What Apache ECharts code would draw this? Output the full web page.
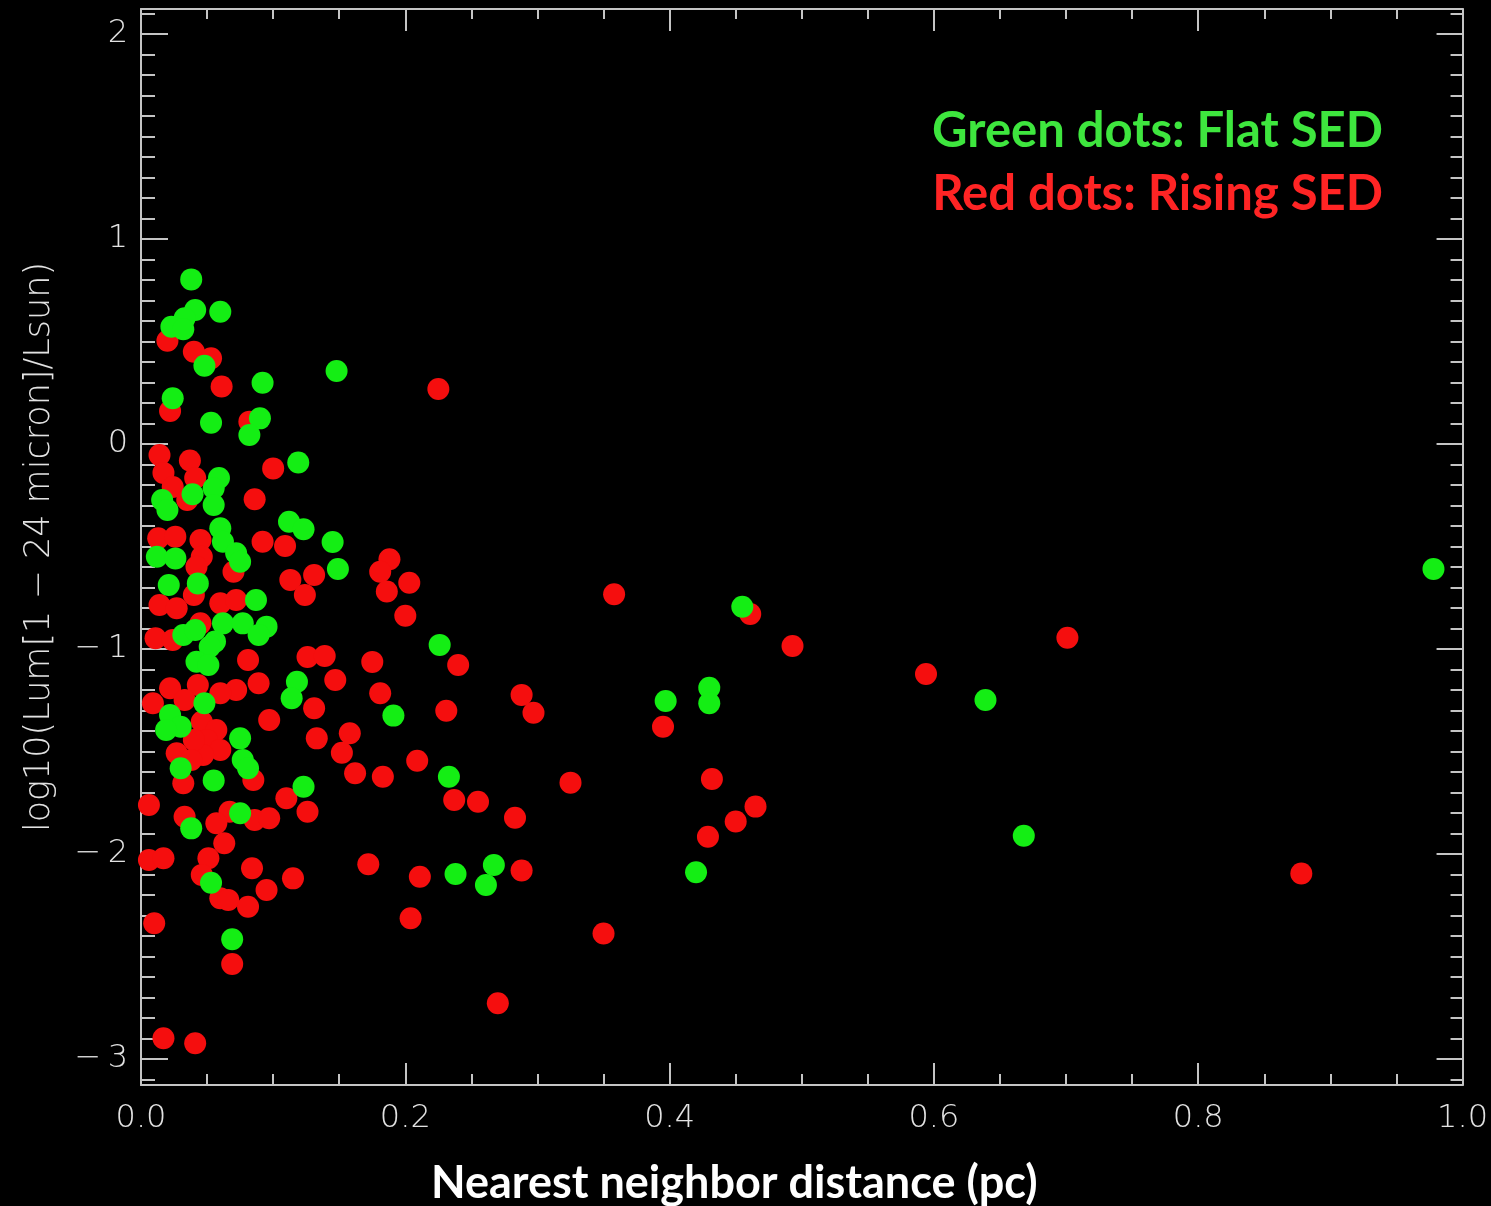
<!DOCTYPE html>
<html>
<head>
<meta charset="utf-8">
<title>Nearest neighbor distance vs luminosity</title>
<script src="https://cdn.jsdelivr.net/npm/echarts@6/dist/echarts.min.js"></script>
<style>
  html, body { margin: 0; padding: 0; background: #000; }
  #chart { width: 1491px; height: 1206px; }
</style>
</head>
<body>
<div id="chart"></div>
<script>
// Flat-SED sources: [nearest neighbor distance (pc), log10 L(1-24 micron)/Lsun]
const flatSed = [
  [0.038, 0.803], [0.041, 0.654], [0.033, 0.613], [0.023, 0.572], [0.032, 0.560],
  [0.060, 0.645], [0.048, 0.382], [0.092, 0.299], [0.148, 0.356], [0.024, 0.223],
  [0.053, 0.104], [0.090, 0.125], [0.082, 0.044], [0.119, -0.090], [0.059, -0.166],
  [0.039, -0.245], [0.016, -0.273], [0.020, -0.322], [0.055, -0.216], [0.055, -0.298],
  [0.112, -0.379], [0.123, -0.416], [0.145, -0.478], [0.060, -0.411], [0.062, -0.477],
  [0.072, -0.533], [0.075, -0.574], [0.012, -0.550], [0.026, -0.558], [0.149, -0.610],
  [0.021, -0.688], [0.043, -0.680], [0.087, -0.761], [0.032, -0.932], [0.041, -0.907],
  [0.062, -0.875], [0.077, -0.875], [0.095, -0.891], [0.089, -0.932], [0.056, -0.964],
  [0.052, -0.989], [0.042, -1.062], [0.051, -1.078], [0.226, -0.980], [0.048, -1.265],
  [0.118, -1.160], [0.114, -1.240], [0.022, -1.322], [0.030, -1.379], [0.019, -1.395],
  [0.075, -1.436], [0.077, -1.541], [0.081, -1.582], [0.030, -1.582], [0.055, -1.642],
  [0.123, -1.672], [0.075, -1.801], [0.038, -1.875], [0.053, -2.140], [0.069, -2.416],
  [0.191, -1.325], [0.233, -1.623], [0.238, -2.098], [0.267, -2.054], [0.261, -2.151],
  [0.455, -0.794], [0.397, -1.254], [0.430, -1.189], [0.430, -1.265], [0.420, -2.089],
  [0.639, -1.249], [0.668, -1.911], [0.978, -0.610]
];

// Rising-SED sources: [nearest neighbor distance (pc), log10 L(1-24 micron)/Lsun]
const risingSed = [
  [0.020, 0.504], [0.040, 0.450], [0.053, 0.418], [0.061, 0.280], [0.022, 0.161],
  [0.082, 0.109], [0.225, 0.268], [0.014, -0.054], [0.037, -0.081], [0.100, -0.119],
  [0.017, -0.141], [0.041, -0.166], [0.024, -0.210], [0.035, -0.273], [0.086, -0.270],
  [0.013, -0.460], [0.026, -0.452], [0.045, -0.468], [0.092, -0.477], [0.109, -0.498],
  [0.046, -0.550], [0.042, -0.599], [0.070, -0.623], [0.113, -0.663], [0.131, -0.639],
  [0.124, -0.737], [0.060, -0.777], [0.072, -0.761], [0.014, -0.785], [0.027, -0.801],
  [0.040, -0.737], [0.011, -0.948], [0.045, -0.875], [0.024, -0.956], [0.081, -1.054],
  [0.126, -1.039], [0.139, -1.034], [0.089, -1.167], [0.072, -1.200], [0.060, -1.216],
  [0.022, -1.192], [0.009, -1.265], [0.043, -1.176], [0.033, -1.249], [0.147, -1.151],
  [0.131, -1.289], [0.097, -1.346], [0.046, -1.355], [0.057, -1.395], [0.050, -1.444],
  [0.060, -1.493], [0.047, -1.517], [0.040, -1.444], [0.133, -1.436], [0.027, -1.509],
  [0.038, -1.541], [0.032, -1.655], [0.085, -1.639], [0.110, -1.728], [0.126, -1.794],
  [0.006, -1.761], [0.067, -1.794], [0.086, -1.834], [0.097, -1.826], [0.033, -1.818],
  [0.057, -1.850], [0.063, -1.948], [0.006, -2.029], [0.017, -2.021], [0.051, -2.021],
  [0.084, -2.070], [0.046, -2.102], [0.115, -2.119], [0.095, -2.176], [0.060, -2.216],
  [0.066, -2.224], [0.081, -2.257], [0.010, -2.338], [0.069, -2.537], [0.017, -2.899],
  [0.041, -2.923], [0.188, -0.562], [0.181, -0.623], [0.203, -0.677], [0.186, -0.720],
  [0.200, -0.838], [0.240, -1.078], [0.175, -1.063], [0.181, -1.216], [0.288, -1.224],
  [0.297, -1.311], [0.231, -1.301], [0.158, -1.411], [0.152, -1.506], [0.209, -1.545],
  [0.162, -1.606], [0.183, -1.623], [0.325, -1.652], [0.237, -1.737], [0.255, -1.745],
  [0.283, -1.823], [0.172, -2.050], [0.211, -2.111], [0.288, -2.081], [0.204, -2.314],
  [0.270, -2.728], [0.350, -2.388], [0.358, -0.733], [0.461, -0.829], [0.493, -0.985],
  [0.594, -1.122], [0.701, -0.945], [0.395, -1.379], [0.432, -1.634], [0.465, -1.769],
  [0.450, -1.842], [0.429, -1.916], [0.878, -2.095]
];

// Axis ranges and labelled tick values
const xRange = [0, 1.0];
const yRange = [-3.127, 2.122];
const xMajorTicks = [0, 0.2, 0.4, 0.6, 0.8, 1.0];
const yMajorTicks = [-3, -2, -1, 0, 1, 2];

// Minor ticks: every 0.05 on x, every 0.1 on y (skipping labelled positions)
const xMinorTicks = [];
for (let i = 1; i < 20; i++) { if (i % 4 !== 0) xMinorTicks.push(+(i * 0.05).toFixed(2)); }
const yMinorTicks = [];
for (let i = -31; i <= 21; i++) { if (i % 10 !== 0) yMinorTicks.push(+(i * 0.1).toFixed(1)); }

const frameColor = '#c4c4c4';
const labelColor = '#e2e2e2';
const tickFont = { color: labelColor, fontSize: 32, fontFamily: 'DejaVu Sans', fontWeight: 200 };

function frameAxis(pos, values, len, withLine, labels) {
  const vertical = pos === 'left' || pos === 'right';
  return {
    type: 'value', position: pos,
    min: vertical ? yRange[0] : xRange[0],
    max: vertical ? yRange[1] : xRange[1],
    axisLine: { show: withLine, onZero: false, lineStyle: { color: frameColor, width: 2 } },
    axisTick: { show: true, inside: true, length: len, customValues: values,
                lineStyle: { color: frameColor, width: 2 } },
    axisLabel: labels ? Object.assign({ show: true, customValues: values }, labels) : { show: false },
    splitLine: { show: false }
  };
}

const chart = echarts.init(document.getElementById('chart'), null, { renderer: 'canvas' });

chart.setOption({
  backgroundColor: '#000',
  animation: false,
  grid: { left: 141, top: 9, right: 26, bottom: 121, containLabel: false },
  xAxis: [
    frameAxis('bottom', xMajorTicks, 22, true, Object.assign({
      margin: 18, formatter: v => v.toFixed(1) }, tickFont)),
    frameAxis('bottom', xMinorTicks, 11, false, null),
    frameAxis('top', xMajorTicks, 22, true, null),
    frameAxis('top', xMinorTicks, 10, false, null)
  ],
  yAxis: [
    Object.assign(frameAxis('left', yMajorTicks, 27, true, Object.assign({
      margin: 13, padding: [6, 0, 0, 0],
      formatter: v => (v < 0 ? '\u2212\u2009' + Math.abs(v) : String(v)) }, tickFont)), {
      name: 'log10(Lum[1 \u2212 24 micron]/Lsun)',
      nameLocation: 'middle', nameRotate: 90, nameGap: 84,
      nameTextStyle: { color: labelColor, fontSize: 35, fontFamily: 'DejaVu Sans', fontWeight: 200 }
    }),
    frameAxis('left', yMinorTicks, 14, false, null),
    frameAxis('right', yMajorTicks, 26, true, null),
    frameAxis('right', yMinorTicks, 12, false, null)
  ],
  graphic: [
    { type: 'text', left: 431, top: 1161,
      style: { text: 'Nearest neighbor distance (pc)', fill: '#ffffff',
               font: 'bold 45px Lato, "Open Sans", sans-serif' } },
    { type: 'text', right: 108, top: 107,
      style: { text: 'Green dots: Flat SED', fill: '#3ee63e',
               font: 'bold 49px Lato, "Open Sans", sans-serif' } },
    { type: 'text', right: 108, top: 170,
      style: { text: 'Red dots: Rising SED', fill: '#ff2424',
               font: 'bold 49px Lato, "Open Sans", sans-serif' } }
  ],
  series: [
    { name: 'Red dots: Rising SED', type: 'scatter', xAxisIndex: 0, yAxisIndex: 0,
      data: risingSed, symbol: 'circle', symbolSize: 22,
      itemStyle: { color: '#f50e0e', opacity: 1 } },
    { name: 'Green dots: Flat SED', type: 'scatter', xAxisIndex: 0, yAxisIndex: 0,
      data: flatSed, symbol: 'circle', symbolSize: 22,
      itemStyle: { color: '#14ee14', opacity: 1 } }
  ]
});
</script>
</body>
</html>
